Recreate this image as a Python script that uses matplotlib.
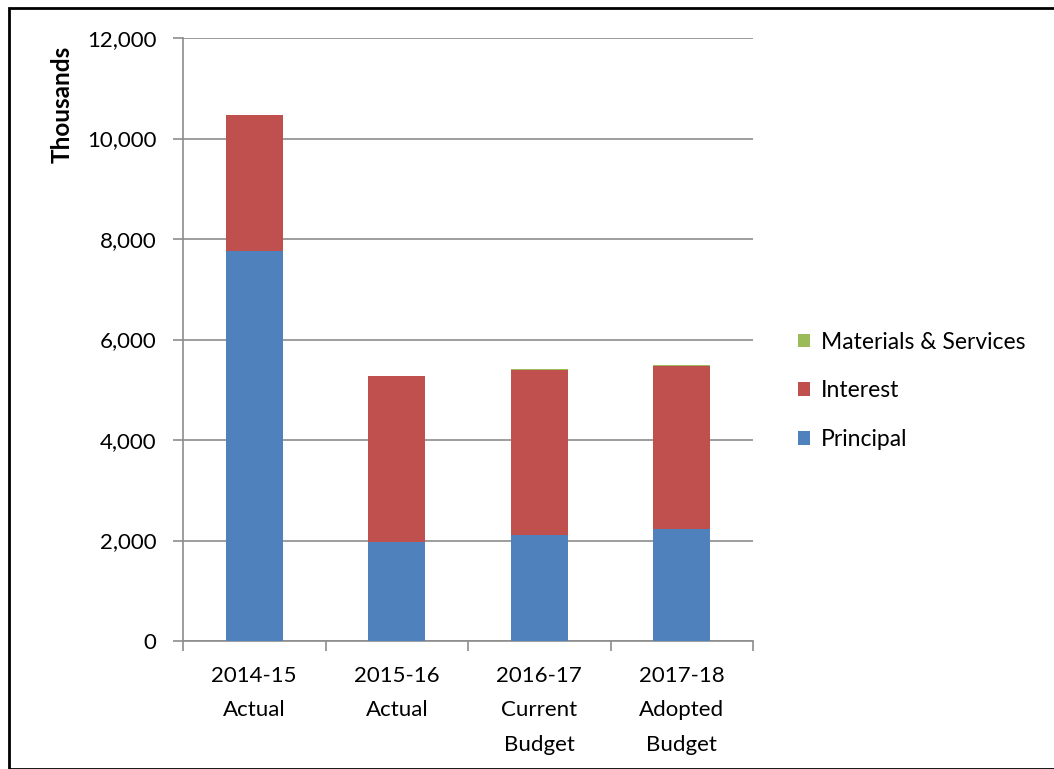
import matplotlib
matplotlib.use("Agg")
import matplotlib.pyplot as plt
from matplotlib.patches import Rectangle
import numpy as np

categories = ["2014-15\nActual", "2015-16\nActual", "2016-17\nCurrent\nBudget", "2017-18\nAdopted\nBudget"]
principal = [7760, 1970, 2110, 2230]
interest = [2710, 3300, 3290, 3250]
materials = [5, 10, 12, 15]
yticks = [0, 2000, 4000, 6000, 8000, 10000, 12000]

plt.rcParams['font.family'] = ['Lato', 'DejaVu Sans']

W, H = 1054, 769
fig = plt.figure(figsize=(W/100, H/100), dpi=100)
ax = fig.add_axes([183/W, 1-641/H, 570/W, 603/H])

x = np.arange(len(categories))
bw = 0.4
c_p, c_i, c_m = "#4F81BD", "#C0504D", "#9BBB59"
b1 = ax.bar(x, principal, bw, color=c_p, label="Principal", zorder=3)
bottom2 = np.array(principal)
b2 = ax.bar(x, interest, bw, bottom=bottom2, color=c_i, label="Interest", zorder=3)
bottom3 = bottom2 + np.array(interest)
b3 = ax.bar(x, materials, bw, bottom=bottom3, color=c_m, label="Materials & Services", zorder=3)

ax.set_xlim(-0.5, len(categories) - 0.5)
ax.set_ylim(0, 12000)
ax.set_yticks(yticks)
ax.set_yticklabels([f"{v:,}" for v in yticks], fontsize=16)
ax.yaxis.grid(True, color="#8C8C8C", linewidth=1.2, zorder=0)
ax.set_axisbelow(True)

ax.set_xticks(x)
ax.set_xticklabels(categories, fontsize=16, linespacing=1.9)
ax.set_xticks(np.arange(len(categories) + 1) - 0.5, minor=True)
ax.tick_params(axis='x', which='major', length=0, pad=18)
ax.tick_params(axis='x', which='minor', length=7, color="#8C8C8C", width=1.2, direction='out')
ax.tick_params(axis='y', length=7, color="#8C8C8C", width=1.2, pad=12)

for s in ["top", "right"]:
    ax.spines[s].set_visible(False)
for s in ["left", "bottom"]:
    ax.spines[s].set_color("#8C8C8C")
    ax.spines[s].set_linewidth(1.2)

fig.text(62/W, 1-46/H, "Thousands", rotation=90, ha='center', va='top',
         fontsize=17.5, fontweight='bold')

handles = [b3, b2, b1]
leg = fig.legend(handles, [h.get_label() for h in handles], loc='center left',
                 bbox_to_anchor=(777/W, 1-391/H), frameon=False, fontsize=16.5,
                 handlelength=0.55, handleheight=0.55, handletextpad=0.45, labelspacing=1.22)

fig.patches.append(Rectangle((9/W, 0), 1.2, 1-8/H, transform=fig.transFigure,
                             fill=False, edgecolor="black", linewidth=2))

fig.savefig("out.png", dpi=100)
